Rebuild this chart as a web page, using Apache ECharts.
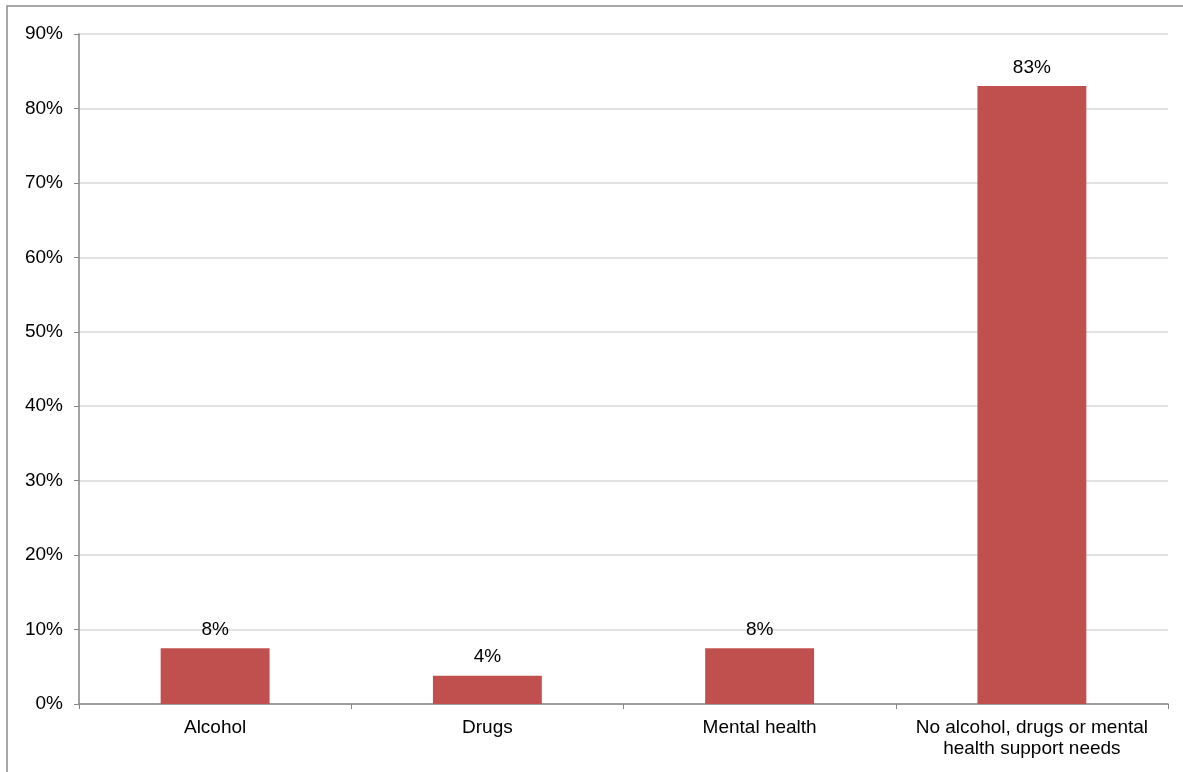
<!DOCTYPE html>
<html>
<head>
<meta charset="utf-8">
<script src="https://cdn.jsdelivr.net/npm/echarts@6/dist/echarts.min.js"></script>
<style>
html,body{margin:0;padding:0;background:#fff;}
#c{width:1183px;height:772px;}
</style>
</head>
<body>
<div id="c"></div>
<script>
const categories = ['Alcohol', 'Drugs', 'Mental health', 'No alcohol, drugs or mental\nhealth support needs'];
const values = [7.5, 3.8, 7.5, 83];
const yTicks = [0, 10, 20, 30, 40, 50, 60, 70, 80, 90];

const chart = echarts.init(document.getElementById('c'));
const font = 'Liberation Sans, Arial, sans-serif';
chart.setOption({
  animation: false,
  graphic: [{
    type: 'rect',
    shape: { x: 7, y: 6, width: 1300, height: 900 },
    style: { fill: 'none', stroke: '#8c8c8c', lineWidth: 1.5 },
    silent: true
  }],
  grid: { left: 79, right: 15, top: 34, bottom: 68, containLabel: false },
  xAxis: {
    type: 'category',
    data: categories,
    axisLine: { lineStyle: { color: '#868686', width: 1.5 } },
    axisTick: { show: true, alignWithLabel: false, length: 5, lineStyle: { color: '#868686' } },
    axisLabel: { color: '#000', fontFamily: font, fontSize: 19, margin: 13, lineHeight: 21, interval: 0 }
  },
  yAxis: {
    type: 'value',
    min: yTicks[0],
    max: yTicks[yTicks.length - 1],
    interval: 10,
    axisLine: { show: true, lineStyle: { color: '#868686', width: 1.5 } },
    axisTick: { show: true, length: 5, lineStyle: { color: '#868686' } },
    splitLine: { lineStyle: { color: '#d9d9d9', width: 1.5 } },
    axisLabel: { color: '#000', fontFamily: font, fontSize: 19, margin: 16, formatter: v => v + '%' }
  },
  series: [{
    type: 'bar',
    data: values,
    barWidth: '40%',
    itemStyle: { color: '#c0504d' },
    label: {
      show: true,
      position: 'top',
      distance: 9,
      color: '#000',
      fontFamily: font,
      fontSize: 19,
      formatter: p => Math.round(p.value) + '%'
    }
  }]
});
</script>
</body>
</html>
